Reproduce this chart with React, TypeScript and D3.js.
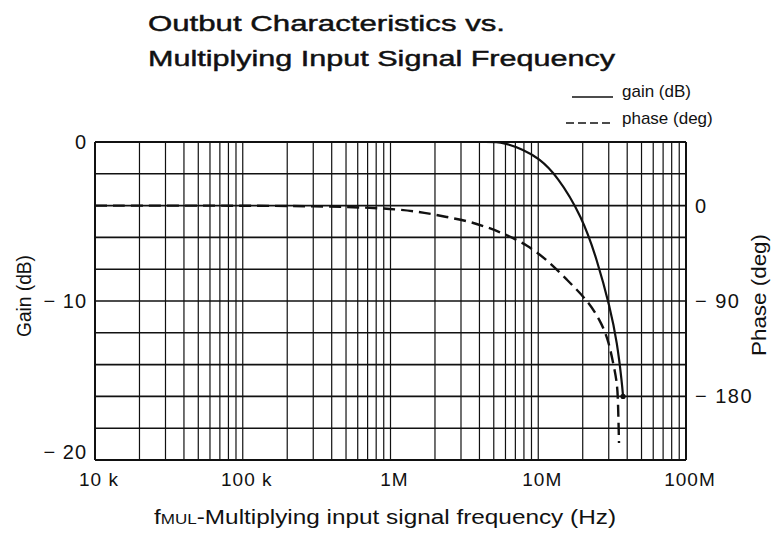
import * as d3 from 'd3';

// ── Layout ────────────────────────────────────────────────────────────────────
const VW = 781;
const VH = 538;
const X0 = 95;
const X1 = 686;
const Y0 = 142;
const Y1 = 460;

const INK = '#111';
const FONT = '"Liberation Sans", Arial, sans-serif';

// ── Data ──────────────────────────────────────────────────────────────────────
const GAIN_FREQ = [1e4, 1e5, 1e6, 3e6, 4.5e6, 5.8e6, 8e6, 1e7, 1.34e7, 1.98e7, 2.5e7, 3.06e7, 3.42e7, 3.69e7, 3.75e7, 3.75e7];
const GAIN_DB   = [0, 0, 0, 0, 0, 0, -0.5, -1.0, -2.1, -4.7, -7.4, -10.4, -12.6, -15.2, -16.0, -16.0];

const PHASE_FREQ = [1e4, 1e5, 3e5, 1e6, 1.77e6, 2.41e6, 3.3e6, 4.5e6, 6.14e6, 8.39e6, 1.15e7, 1.57e7,
                    2.14e7, 2.62e7, 2.97e7, 3.21e7, 3.42e7, 3.47e7, 3.52e7, 3.52e7];
const PHASE_DEG  = [0, 0, -0.5, -2.3, -7, -10.8, -14.5, -20.2, -27.7, -37.2, -51.3, -70.2,
                    -89, -108, -126, -148, -167, -186, -224, -224];

const X_TICKS       = [1e4, 1e5, 1e6, 1e7, 1e8];
const X_TICK_LABELS = ['10 k', '100 k', '1M', '10M', '100M'];
const GAIN_TICKS    = [0, -10, -20];
const GAIN_LABELS   = ['0', '− 10', '− 20'];
const PHASE_TICKS   = [0, -90, -180];
const PHASE_LABELS  = ['0', '− 90', '− 180'];

// ── Scales ────────────────────────────────────────────────────────────────────
const x  = d3.scaleLog().domain([1e4, 1e8]).range([X0, X1]);
const yG = d3.scaleLinear().domain([0, -20]).range([Y0, Y1]);
const yP = d3.scaleLinear().domain([60, -240]).range([Y0, Y1]);

const gainPts  = GAIN_FREQ.map((f, i) => [f, GAIN_DB[i]] as [number, number]);
const phasePts = PHASE_FREQ.map((f, i) => [f, PHASE_DEG[i]] as [number, number]);

// basis spline: no overshoot on the flat part, no kinks in the steep roll-off
const gainLine = d3.line<[number, number]>()
  .x(d => x(d[0])).y(d => yG(d[1])).curve(d3.curveBasis);
const phaseLine = d3.line<[number, number]>()
  .x(d => x(d[0])).y(d => yP(d[1])).curve(d3.curveBasis);

// vertical grid: 1..9 in each decade
const vGrid: number[] = [];
for (let e = 4; e < 8; e++) for (let m = 1; m <= 9; m++) vGrid.push(m * 10 ** e);
const hGrid = d3.range(0, -21, -2);

export default function App() {
  const last = gainPts[gainPts.length - 1];
  return (
    <svg
      width={VW} height={VH} viewBox={`0 0 ${VW} ${VH}`}
      style={{ position: 'absolute', left: 0, top: 0, background: '#fff' }}
      fontFamily={FONT}
    >
      {/* Title */}
      <text x={148} y={31} fontSize={22} fill={INK} stroke={INK} strokeWidth={0.45}
        textLength={357} lengthAdjust="spacingAndGlyphs">Outbut Characteristics vs.</text>
      <text x={148} y={66} fontSize={22} fill={INK} stroke={INK} strokeWidth={0.45}
        textLength={467} lengthAdjust="spacingAndGlyphs">Multiplying Input Signal Frequency</text>

      {/* Legend */}
      <line x1={572} x2={613} y1={97} y2={97} stroke={INK} strokeWidth={1.5} />
      <text x={622} y={97} fontSize={17} fill={INK}>gain (dB)</text>
      <line x1={566} x2={613} y1={123} y2={123} stroke={INK} strokeWidth={1.5} strokeDasharray="8,4" />
      <text x={622} y={124} fontSize={17} fill={INK}>phase (deg)</text>

      {/* Grid */}
      {vGrid.map(v => (
        <line key={`v${v}`} x1={x(v)} x2={x(v)} y1={Y0} y2={Y1}
          stroke={INK} strokeWidth={v === 1e4 ? 2 : 1.2} />
      ))}
      <line x1={X1} x2={X1} y1={Y0} y2={Y1} stroke={INK} strokeWidth={2} />
      {hGrid.map(v => (
        <line key={`h${v}`} x1={X0} x2={X1} y1={yG(v)} y2={yG(v)}
          stroke={INK} strokeWidth={v === 0 || v === -20 ? 2 : 1.6} />
      ))}

      {/* Curves */}
      <path d={phaseLine(phasePts) ?? ''} fill="none" stroke={INK} strokeWidth={2.4}
        strokeDasharray="12,6" />
      <path d={gainLine(gainPts) ?? ''} fill="none" stroke={INK} strokeWidth={2.2} />
      <circle cx={x(last[0])} cy={yG(last[1])} r={2.6} fill={INK} />

      {/* Left axis labels */}
      {GAIN_TICKS.map((v, i) => (
        <text key={v} x={87} y={Math.min(yG(v) + 7, Y1 - 1)} textAnchor="end"
          fontSize={20} letterSpacing={1} fill={INK}>{GAIN_LABELS[i]}</text>
      ))}
      {/* Right axis labels */}
      {PHASE_TICKS.map((v, i) => (
        <text key={v} x={695} y={yP(v) + 7} fontSize={20} letterSpacing={1.5} fill={INK}>
          {PHASE_LABELS[i]}
        </text>
      ))}

      {/* X axis labels */}
      {X_TICKS.map((v, i) => (
        <text key={v} x={x(v) + 4} y={486} textAnchor="middle" fontSize={19} letterSpacing={1} fill={INK}>
          {X_TICK_LABELS[i]}
        </text>
      ))}

      {/* Axis titles */}
      <text transform={`translate(31,296) rotate(-90)`} textAnchor="middle" fontSize={20} fill={INK}
        textLength={82} lengthAdjust="spacingAndGlyphs">
        Gain (dB)
      </text>
      <text transform={`translate(766,295) rotate(-90)`} textAnchor="middle" fontSize={21} fill={INK}
        textLength={122} lengthAdjust="spacingAndGlyphs">
        Phase (deg)
      </text>
      <text x={385} y={524} textAnchor="middle" fontSize={20} fill={INK}
        textLength={462} lengthAdjust="spacingAndGlyphs">
        f<tspan fontSize={14}>MUL</tspan>-Multiplying input signal frequency (Hz)
      </text>
    </svg>
  );
}
